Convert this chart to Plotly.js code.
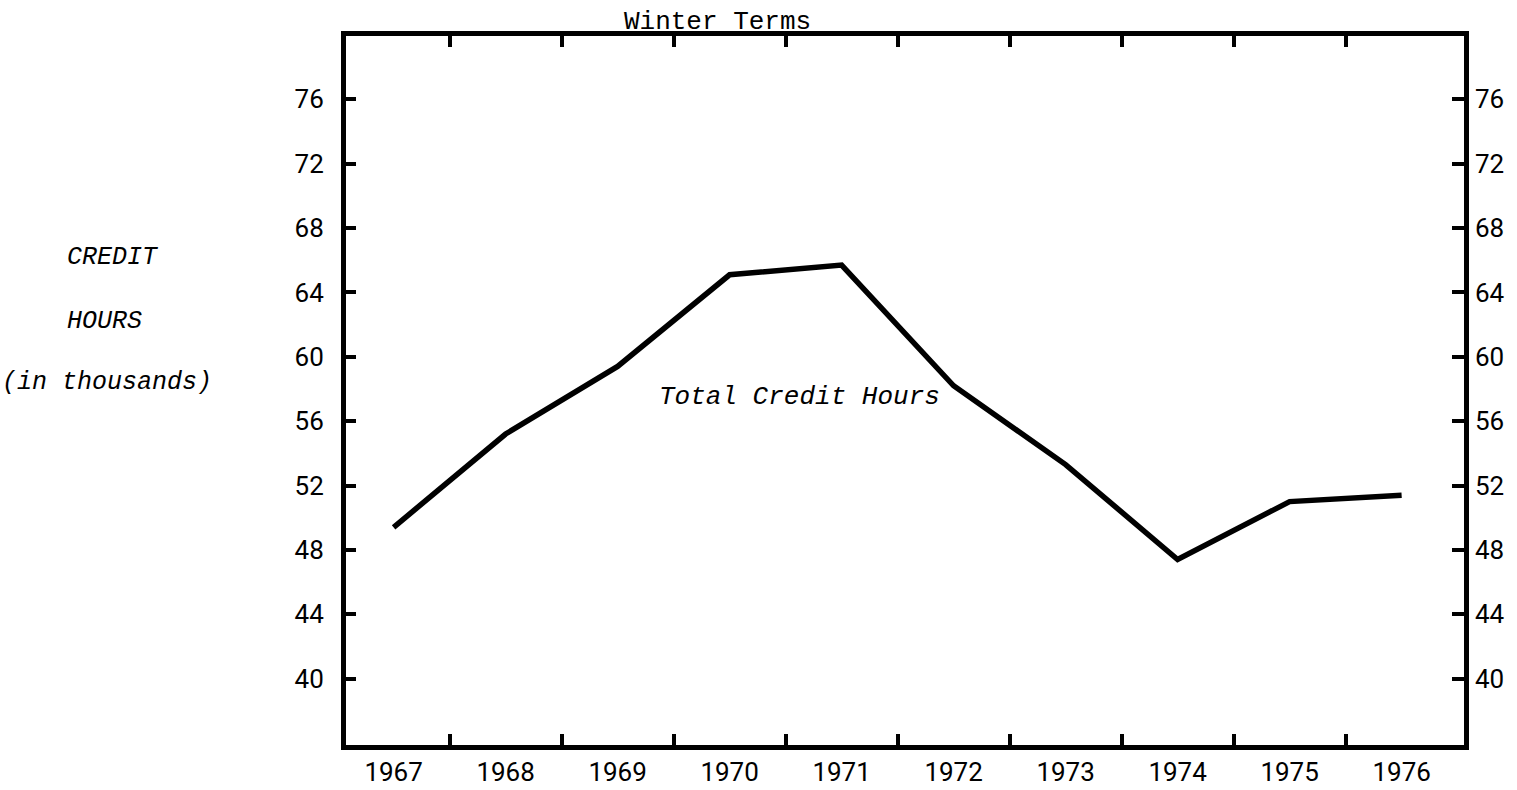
<!DOCTYPE html>
<html>
<head>
<meta charset="utf-8">
<script src="https://cdn.plot.ly/plotly-3.0.1.min.js"></script>
<style>
html,body{margin:0;padding:0;background:#fff;}
#chart{width:1517px;height:790px;}
</style>
</head>
<body>
<div id="chart"></div>
<script>
// Data
const years = [1967, 1968, 1969, 1970, 1971, 1972, 1973, 1974, 1975, 1976];
const creditHours = [49.4, 55.2, 59.4, 65.1, 65.7, 58.2, 53.3, 47.4, 51.0, 51.4];
const yearLabels = ["1967", "1968", "1969", "1970", "1971", "1972", "1973", "1974", "1975", "1976"];
const yTickValues = [40, 44, 48, 52, 56, 60, 64, 68, 72, 76];
const yTickLabels = ["40", "44", "48", "52", "56", "60", "64", "68", "72", "76"];
const halfYearTicks = [1967.5, 1968.5, 1969.5, 1970.5, 1971.5, 1972.5, 1973.5, 1974.5, 1975.5];
const titleText = "Winter Terms";
const seriesLabel = "Total Credit Hours";
const yTitleLines = ["CREDIT", "HOURS", "(in thousands)"];

const xRange = [1966.575, 1976.557];
const yRange = [35.87, 79.94];

const tickFont = {family: "Roboto, 'DejaVu Sans', sans-serif", size: 26, color: "#000"};
const monoFont = {family: "'Liberation Mono', 'Courier New', monospace", size: 26, color: "#000"};

const traces = [
  {
    x: years,
    y: creditHours,
    type: "scatter",
    mode: "lines",
    line: {color: "#000", width: 5.5},
    xaxis: "x",
    yaxis: "y",
    showlegend: false,
    hoverinfo: "skip"
  },
  {
    // empty traces so the tick-only axes are drawn
    x: [], y: [], type: "scatter", mode: "lines",
    xaxis: "x2", yaxis: "y2", showlegend: false, hoverinfo: "skip"
  },
  {
    x: [], y: [], type: "scatter", mode: "lines",
    xaxis: "x2", yaxis: "y3", showlegend: false, hoverinfo: "skip"
  }
];

const layout = {
  width: 1517,
  height: 790,
  margin: {l: 346, r: 53, t: 36, b: 45},
  paper_bgcolor: "#fff",
  plot_bgcolor: "#fff",
  showlegend: false,
  title: {
    text: titleText,
    font: monoFont,
    xref: "container",
    yref: "container",
    x: 0.473,
    xanchor: "center",
    y: 0.975,
    yanchor: "middle"
  },
  xaxis: {
    range: xRange,
    tickvals: years,
    ticktext: yearLabels,
    ticks: "",
    showline: true,
    linewidth: 5,
    linecolor: "#000",
    mirror: true,
    showgrid: false,
    zeroline: false,
    tickfont: tickFont,
    fixedrange: true
  },
  xaxis2: {
    range: xRange,
    overlaying: "x",
    anchor: "y2",
    side: "bottom",
    tickvals: halfYearTicks,
    ticks: "inside",
    ticklen: 11,
    tickwidth: 4,
    tickcolor: "#000",
    showticklabels: false,
    showline: false,
    mirror: "ticks",
    showgrid: false,
    zeroline: false,
    fixedrange: true
  },
  yaxis: {
    range: yRange,
    tickvals: yTickValues,
    ticktext: yTickLabels,
    ticks: "",
    showline: true,
    linewidth: 5,
    linecolor: "#000",
    mirror: true,
    showgrid: false,
    zeroline: false,
    tickfont: tickFont,
    ticklabelstandoff: 12,
    fixedrange: true
  },
  yaxis2: {
    range: yRange,
    overlaying: "y",
    anchor: "x2",
    side: "right",
    tickvals: yTickValues,
    ticktext: yTickLabels,
    ticks: "inside",
    ticklen: 12,
    tickwidth: 4,
    tickcolor: "#000",
    showline: false,
    showgrid: false,
    zeroline: false,
    tickfont: tickFont,
    ticklabelstandoff: 10,
    fixedrange: true
  },
  yaxis3: {
    range: yRange,
    overlaying: "y",
    anchor: "x2",
    side: "left",
    tickvals: yTickValues,
    ticks: "inside",
    ticklen: 10,
    tickwidth: 4,
    tickcolor: "#000",
    showticklabels: false,
    showline: false,
    showgrid: false,
    zeroline: false,
    fixedrange: true
  },
  annotations: [
    {
      text: seriesLabel,
      xref: "x", yref: "y",
      x: 1970.62, y: 57.5,
      xanchor: "center", yanchor: "middle",
      showarrow: false,
      font: Object.assign({}, monoFont, {style: "italic"})
    },
    {
      text: yTitleLines[0],
      xref: "paper", yref: "paper",
      x: -0.2513, y: 0.688,
      xanchor: "left", yanchor: "middle",
      showarrow: false,
      font: Object.assign({}, monoFont, {size: 25, style: "italic"})
    },
    {
      text: yTitleLines[1],
      xref: "paper", yref: "paper",
      x: -0.2513, y: 0.597,
      xanchor: "left", yanchor: "middle",
      showarrow: false,
      font: Object.assign({}, monoFont, {size: 25, style: "italic"})
    },
    {
      text: yTitleLines[2],
      xref: "paper", yref: "paper",
      x: -0.3095, y: 0.511,
      xanchor: "left", yanchor: "middle",
      showarrow: false,
      font: Object.assign({}, monoFont, {size: 25, style: "italic"})
    }
  ]
};

Plotly.newPlot("chart", traces, layout, {staticPlot: true, displayModeBar: false});
</script>
</body>
</html>
